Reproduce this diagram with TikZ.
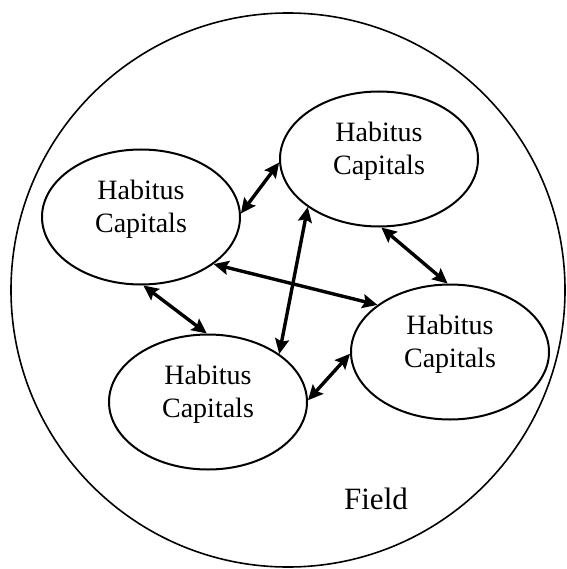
\documentclass[tikz,border=0pt]{standalone}
\usepackage{fontspec}
\setmainfont{Liberation Serif}
\usetikzlibrary{shapes.geometric,arrows.meta}
\begin{document}
\begin{tikzpicture}[x=1pt,y=-1pt,
  agent/.style={ellipse,draw,line width=2pt,minimum width=198pt,minimum height=135pt,inner sep=0pt},
  lbl/.style={align=center,font=\fontsize{28}{33}\selectfont,inner sep=0pt},
  link/.style={line width=3.4pt,{Stealth[length=15pt,width=14pt,inset=2.5pt]}-{Stealth[length=15pt,width=14pt,inset=2.5pt]}}]
\useasboundingbox (0,0) rectangle (566,569);
\node[circle,draw,line width=1.6pt,minimum size=554pt,inner sep=0pt] (field) at (288,290) {};
\node[font=\fontsize{31}{36}\selectfont,inner sep=0pt] (fieldlbl) at (376,499) {Field};
\node[agent] (TR) at (379,159) {};
\node[agent] (L) at (141,217) {};
\node[agent] (B) at (208,402) {};
\node[agent] (R) at (450,352) {};
\node[lbl] (tTR) at (379,151) {Habitus\\Capitals};
\node[lbl] (tL) at (141,209) {Habitus\\Capitals};
\node[lbl] (tB) at (208,394) {Habitus\\Capitals};
\node[lbl] (tR) at (450,344) {Habitus\\Capitals};
\draw[link] (L.2) -- (TR.182);
\draw[link] (TR.272) -- (R.92);
\draw[link] (L.-33) -- (R.147);
\draw[link] (TR.214) -- (B.34);
\draw[link] (L.272) -- (B.91);
\draw[link] (B.1) -- (R.181);
\end{tikzpicture}
\end{document}
